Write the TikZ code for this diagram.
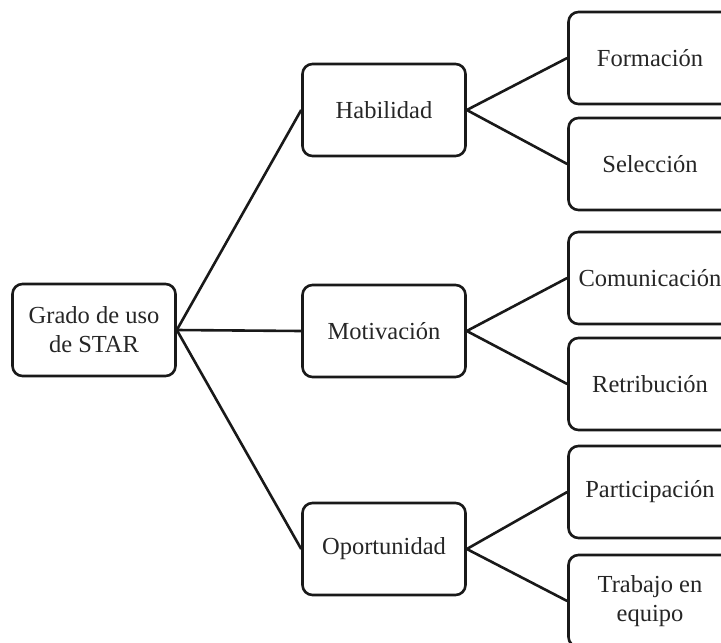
\documentclass[tikz,border=0pt]{standalone}
\usepackage{fontspec}
\setmainfont{Liberation Serif}
\begin{document}
\begin{tikzpicture}[x=1pt,y=-1pt,
  box/.style={draw=black!90, line width=2.6pt, rounded corners=10pt, minimum width=163pt, minimum height=92pt, inner sep=2pt, align=center, text=black!85, font=\fontsize{24.5}{29}\selectfont},
  conn/.style={draw=black!90, line width=2.6pt}]
\useasboundingbox (0,0) rectangle (721,643);
\clip (0,0) rectangle (721,643);
\node[box] (root) at (94,330) {Grado de uso\\de STAR};
\node[box] (hab) at (384,110) {Habilidad};
\node[box] (mot) at (384,331) {Motivación};
\node[box] (opo) at (384,549) {Oportunidad};
\node[box] (for) at (650,58) {Formación};
\node[box] (sel) at (650,164) {Selección};
\node[box] (com) at (650,278) {Comunicación};
\node[box] (ret) at (650,384) {Retribución};
\node[box] (par) at (650,492) {Participación};
\node[box] (tra) at (650,601) {Trabajo en\\equipo};
\draw[conn] (root.east) -- (hab.west);
\draw[conn] (root.east) -- (mot.west);
\draw[conn] (root.east) -- (opo.west);
\draw[conn] (hab.east) -- (for.west);
\draw[conn] (hab.east) -- (sel.west);
\draw[conn] (mot.east) -- (com.west);
\draw[conn] (mot.east) -- (ret.west);
\draw[conn] (opo.east) -- (par.west);
\draw[conn] (opo.east) -- (tra.west);
\end{tikzpicture}
\end{document}
